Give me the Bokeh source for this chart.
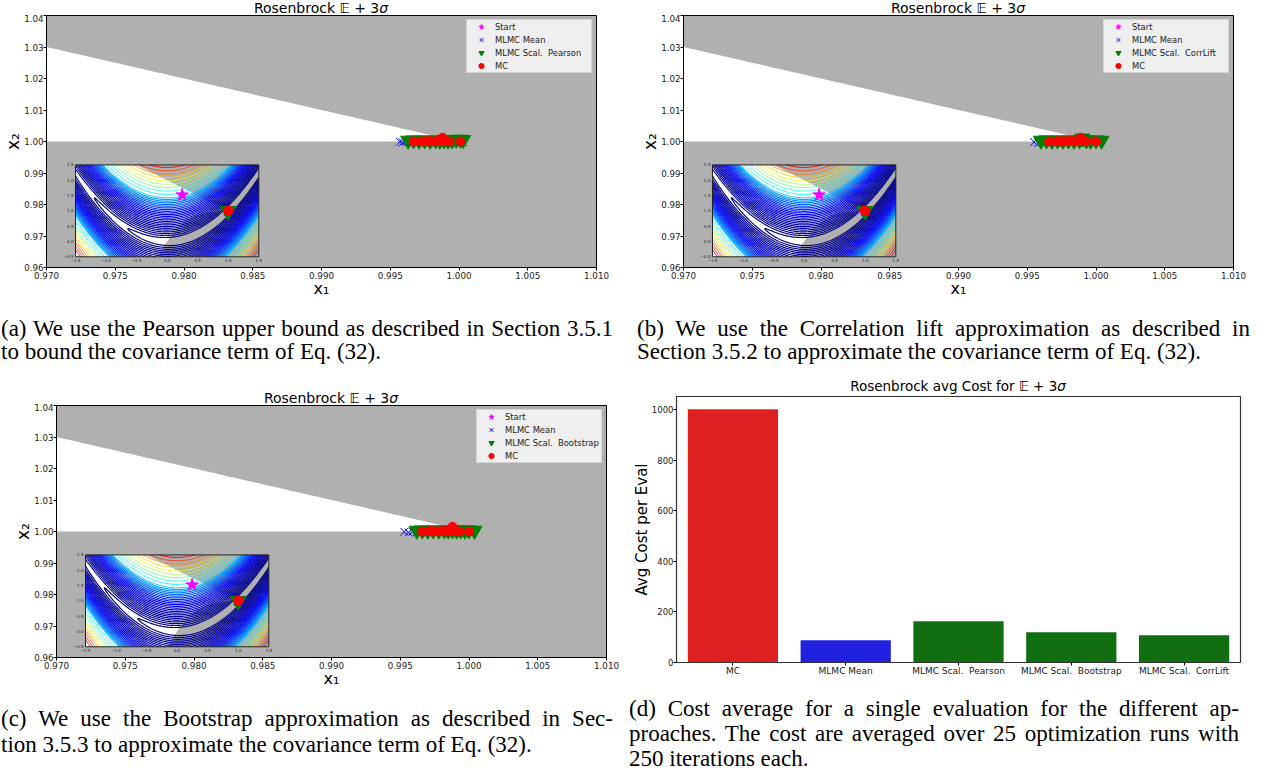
import numpy as np
import contourpy
from bokeh.plotting import figure
from bokeh.models import (Range1d, FactorRange, FixedTicker, NumeralTickFormatter,
                          Legend, LegendItem, Div)
from bokeh.layouts import row, column
from bokeh.core.properties import value
from bokeh.embed import file_html
from bokeh.resources import INLINE

# ---------------------------------------------------------------- data
x_ticks = [0.970, 0.975, 0.980, 0.985, 0.990, 0.995, 1.000, 1.005, 1.010]
y_ticks = [0.96, 0.97, 0.98, 0.99, 1.00, 1.01, 1.02, 1.03, 1.04]
inset_xlim = [-1.5, 1.5]
inset_ylim = [-0.5, 2.5]
inset_xticks = [-1.5, -1.0, -0.5, 0.0, 0.5, 1.0, 1.5]
inset_yticks = [-0.5, 0.0, 0.5, 1.0, 1.5, 2.0, 2.5]

start_x = [0.245]
start_y = [1.52]

# panel (a) - Pearson
a_mean_x = [0.9957, 0.9959, 0.9961, 0.9964, 0.9967, 0.9971, 0.9975, 0.9979, 0.9983, 0.9987, 0.9991, 0.9995, 0.9999, 1.0003]
a_mean_y = [0.9999, 0.9997, 1.0001, 0.9998, 0.9996, 0.9998, 0.9997, 0.9999, 0.9996, 0.9998, 0.9997, 0.9999, 0.9996, 0.9998]
a_scal_x = [0.9963, 0.9967, 0.9971, 0.9975, 0.9979, 0.9983, 0.9986, 0.9989, 0.9992, 0.9995, 0.9998, 1.0001, 1.0003]
a_scal_y = [1.0003, 1.0004, 1.0003, 1.0004, 1.0003, 1.0004, 1.0003, 1.0004, 1.0003, 1.0004, 1.0006, 1.0006, 1.0005]
a_mc_x = [0.9967, 0.9973, 0.9975, 0.9977, 0.9979, 0.9982, 0.9984, 0.9986, 0.9988, 0.9990, 0.9993, 1.0001]
a_mc_y = [1.0000, 1.0000, 1.0001, 1.0000, 1.0001, 1.0000, 1.0002, 1.0001, 1.0012, 1.0001, 1.0000, 1.0000]

# panel (b) - CorrLift
b_mean_x = [0.9955, 0.9958, 0.9961, 0.9964, 0.9968, 0.9972, 0.9976, 0.9980, 0.9984, 0.9988, 0.9992, 0.9996, 1.0000]
b_mean_y = [0.9998, 0.9996, 1.0000, 0.9997, 0.9998, 0.9996, 0.9998, 0.9997, 0.9999, 0.9996, 0.9998, 0.9997, 0.9998]
b_scal_x = [0.9960, 0.9964, 0.9968, 0.9972, 0.9976, 0.9980, 0.9984, 0.9988, 0.9990, 0.9993, 0.9996, 1.0000, 1.0004]
b_scal_y = [1.0003, 1.0004, 1.0003, 1.0004, 1.0003, 1.0004, 1.0003, 1.0004, 1.0010, 1.0004, 1.0003, 1.0004, 1.0003]
b_mc_x = [0.9966, 0.9972, 0.9974, 0.9976, 0.9978, 0.9981, 0.9983, 0.9985, 0.9989, 0.9991, 0.9993, 1.0000]
b_mc_y = [1.0000, 1.0001, 1.0000, 1.0001, 1.0000, 1.0002, 1.0001, 1.0000, 1.0012, 1.0001, 1.0000, 1.0000]

# panel (c) - Bootstrap
c_mean_x = [0.9953, 0.9956, 0.9959, 0.9962, 0.9966, 0.9970, 0.9974, 0.9978, 0.9982, 0.9986, 0.9990, 0.9994, 0.9998, 1.0002]
c_mean_y = [0.9999, 0.9997, 1.0000, 0.9997, 0.9998, 0.9996, 0.9998, 0.9997, 0.9999, 0.9996, 0.9998, 0.9997, 0.9999, 0.9997]
c_scal_x = [0.9962, 0.9966, 0.9970, 0.9974, 0.9978, 0.9982, 0.9985, 0.9988, 0.9991, 0.9994, 0.9997, 1.0000, 1.0004]
c_scal_y = [1.0003, 1.0004, 1.0003, 1.0004, 1.0003, 1.0004, 1.0003, 1.0004, 1.0003, 1.0004, 1.0003, 1.0004, 1.0003]
c_mc_x = [0.9966, 0.9971, 0.9973, 0.9975, 0.9978, 0.9981, 0.9983, 0.9985, 0.9988, 0.9990, 0.9993, 1.0000]
c_mc_y = [1.0000, 1.0001, 1.0000, 1.0001, 1.0000, 1.0002, 1.0001, 1.0000, 1.0015, 1.0001, 1.0000, 1.0000]

# panel (d) - average cost
cost_methods = ["MC", "MLMC Mean", "MLMC Scal.\u00a0 Pearson", "MLMC Scal.\u00a0 Bootstrap", "MLMC Scal.\u00a0 CorrLift"]
cost_values = [1002, 88, 163, 120, 108]
cost_colors = ["#df2020", "#2020df", "#116f11", "#116f11", "#116f11"]
cost_ticks = [0, 200, 400, 600, 800, 1000]

captions = {
    "a": ["(a) We use the Pearson upper bound as described in Section 3.5.1",
          "to bound the covariance term of Eq. (32)."],
    "b": ["(b) We use the Correlation lift approximation as described in",
          "Section 3.5.2 to approximate the covariance term of Eq. (32)."],
    "c": ["(c) We use the Bootstrap approximation as described in Sec-",
          "tion 3.5.3 to approximate the covariance term of Eq. (32)."],
    "d": ["(d) Cost average for a single evaluation for the different ap-",
          "proaches. The cost are averaged over 25 optimization runs with",
          "250 iterations each."],
}

TITLE = "Rosenbrock \U0001D53C + 3<i>\u03c3</i>"
TITLE_D = "Rosenbrock avg Cost for \U0001D53C + 3<i>\u03c3</i>"

# ---------------------------------------------------------------- style
FONT = "DejaVu Sans"
GRAY = "#b0b0b0"
TXT = "#1a1a1a"
FRAME_W, FRAME_H = 550, 252
INSET_FRAC = (0.0527, 0.386, 0.0425, 0.407)   # left, right, bottom, top (frame fractions)

# legend geometry (pixels)
LEG_MARGIN, LEG_GW, LEG_GH, LEG_LW = 4, 28, 13, 96
LEG_KEYS = [("star", 13, "magenta", "magenta", 1.0),
            ("x", 12, None, "blue", 1.0),
            ("inverted_triangle", 14, "green", "green", 1.0),
            ("circle", 7, "red", "red", 1.0)]


def cubic_bound(x):
    return 1.0 + (np.asarray(x) - 1.0) ** 3


def line_bound(x):
    return 2.0 - np.asarray(x)


def rosenbrock(x, y):
    return (1.0 - x) ** 2 + 100.0 * (y - x ** 2) ** 2


def jet(t):
    r = np.clip(1.5 - abs(4 * t - 3), 0, 1)
    g = np.clip(1.5 - abs(4 * t - 2), 0, 1)
    b = np.clip(1.5 - abs(4 * t - 1), 0, 1)
    return "#%02x%02x%02x" % (int(r * 255), int(g * 255), int(b * 255))


# contour lines of the objective for the inset
gx = np.linspace(inset_xlim[0], inset_xlim[1], 181)
gy = np.linspace(inset_ylim[0], inset_ylim[1], 181)
GX, GY = np.meshgrid(gx, gy)
GZ = rosenbrock(GX, GY)
levels = np.concatenate([(0.55 * np.arange(3, 27)) ** 2, (14.3 + 1.1 * np.arange(1, 11)) ** 2])
LEV_MAX = 650.0
gen = contourpy.contour_generator(GX, GY, GZ, line_type="Separate")
cont_xs, cont_ys, cont_cols, cont_w = [], [], [], []
for lev in levels:
    col = jet(min(lev / LEV_MAX, 1.0))
    for seg in gen.lines(lev):
        cont_xs.append(seg[:, 0])
        cont_ys.append(seg[:, 1])
        cont_cols.append(col)
        cont_w.append(1.2 if lev < 200 else 0.9)


def fmt_tick(v):
    return f"{v:.1f}".replace("-", "\u2212")


def style_axes(p, xfs="8.7px", yfs="8.7px"):
    for ax in (p.xaxis[0], p.yaxis[0]):
        ax.major_label_text_font = FONT
        ax.major_label_text_color = TXT
        ax.major_tick_in = 0
        ax.major_tick_out = 3
        ax.minor_tick_line_color = None
        ax.axis_line_color = "black"
        ax.major_tick_line_color = "black"
        ax.axis_label_text_font = FONT
        ax.axis_label_text_font_style = "normal"
        ax.axis_label_text_color = "black"
    p.xaxis.major_label_text_font_size = xfs
    p.yaxis.major_label_text_font_size = yfs


def make_legend(items):
    return Legend(items=items, location="top_right", margin=LEG_MARGIN, padding=0, spacing=0,
                  glyph_width=LEG_GW, glyph_height=LEG_GH, label_height=LEG_GH, label_width=LEG_LW,
                  label_standoff=0, label_text_font=FONT, label_text_font_size="8.4px",
                  label_text_color=TXT, background_fill_color="#efefef", background_fill_alpha=1.0,
                  border_line_color="#bbbbbb", border_line_width=1, level="underlay")


def title_div(html_text, box_w, box_h, frame_left, frame_w, fs, baseline):
    lh = 10
    pad = baseline - ((lh - 1.164 * fs) / 2 + 0.928 * fs)
    html = (f'<div style="margin-left:{frame_left}px;width:{frame_w}px;text-align:center;'
            f'font-family:\'DejaVu Sans\';font-size:{fs}px;line-height:{lh}px;color:#000;'
            f'padding-top:{pad:.1f}px;white-space:nowrap;">{html_text}</div>')
    return Div(text=html, width=box_w, height=box_h, margin=0, styles={"overflow": "visible"})


def main_panel(mean_x, mean_y, scal_x, scal_y, mc_x, mc_y, scal_label, border):
    bl, bt, bb, br = border
    p = figure(frame_width=FRAME_W, frame_height=FRAME_H, title=None,
               x_range=Range1d(x_ticks[0], x_ticks[-1]),
               y_range=Range1d(y_ticks[0], y_ticks[-1]),
               min_border_left=bl, min_border_top=bt, min_border_bottom=bb, min_border_right=br,
               output_backend="svg", toolbar_location=None,
               background_fill_color=GRAY, border_fill_color="white")
    p.grid.visible = False
    p.outline_line_color = "black"

    fl, fr, fb, ft = INSET_FRAC
    sx = (inset_xlim[1] - inset_xlim[0]) / (fr - fl)
    sy = (inset_ylim[1] - inset_ylim[0]) / (ft - fb)
    p.extra_x_ranges = {"ix": Range1d(inset_xlim[0] - fl * sx, inset_xlim[0] + (1 - fl) * sx),
                        "px": Range1d(0, FRAME_W)}
    p.extra_y_ranges = {"iy": Range1d(inset_ylim[0] - fb * sy, inset_ylim[0] + (1 - fb) * sy),
                        "py": Range1d(0, FRAME_H)}
    I = dict(x_range_name="ix", y_range_name="iy")

    # feasible region (white) in the main view
    xw = np.linspace(x_ticks[0], 1.0, 200)
    p.varea(x=xw, y1=cubic_bound(xw), y2=line_bound(xw), fill_color="white")

    # inset: background, infeasible regions, contours
    p.quad(left=[inset_xlim[0]], right=[inset_xlim[1]], bottom=[inset_ylim[0]], top=[inset_ylim[1]],
           fill_color="white", line_color=None, **I)
    xg = np.linspace(inset_xlim[0], inset_xlim[1], 400)
    p.varea(x=xg, y1=np.full_like(xg, inset_ylim[0]), y2=np.clip(cubic_bound(xg), *inset_ylim),
            fill_color=GRAY, **I)
    p.varea(x=xg, y1=np.clip(line_bound(xg), *inset_ylim), y2=np.full_like(xg, inset_ylim[1]),
            fill_color=GRAY, **I)
    p.multi_line(xs=cont_xs, ys=cont_ys, line_color=cont_cols, line_width=cont_w, **I)
    p.quad(left=[inset_xlim[0]], right=[inset_xlim[1]], bottom=[inset_ylim[0]], top=[inset_ylim[1]],
           fill_color=None, line_color="#222222", line_width=1, **I)
    p.text(x=inset_xticks, y=[inset_ylim[0]] * len(inset_xticks), text=[fmt_tick(v) for v in inset_xticks],
           text_font=value(FONT), text_font_size="4px", text_color=TXT, text_align="center",
           text_baseline="top", y_offset=2, **I)
    p.text(x=[inset_xlim[0]] * len(inset_yticks), y=inset_yticks, text=[fmt_tick(v) for v in inset_yticks],
           text_font=value(FONT), text_font_size="4px", text_color=TXT, text_align="right",
           text_baseline="middle", x_offset=-2, **I)

    # markers: inset copies
    p.scatter(start_x, start_y, marker="star", size=13, fill_color="magenta", line_color="magenta", **I)
    p.scatter(mean_x, mean_y, marker="x", size=11, line_color="blue", line_width=1.2, **I)
    p.scatter(scal_x, scal_y, marker="inverted_triangle", size=15, fill_color="green", line_color="green", **I)
    p.scatter(mc_x, mc_y, marker="circle", size=9, fill_color="red", line_color="red", **I)

    # markers: main view
    r_start = p.scatter(start_x, start_y, marker="star", size=13, fill_color="magenta", line_color="magenta")
    r_mean = p.scatter(mean_x, mean_y, marker="x", size=11, line_color="blue", line_width=1.0)
    r_scal = p.scatter(scal_x, scal_y, marker="inverted_triangle", size=15, fill_color="green", line_color="green")
    r_mc = p.scatter(mc_x, mc_y, marker="circle", size=9, fill_color="red", line_color="red")

    p.add_layout(make_legend([LegendItem(label="Start", renderers=[r_start]),
                              LegendItem(label="MLMC Mean", renderers=[r_mean]),
                              LegendItem(label=scal_label, renderers=[r_scal]),
                              LegendItem(label="MC", renderers=[r_mc])]))

    # larger legend keys drawn over the legend's own (small) glyphs, in frame-pixel space
    box_w = LEG_GW + LEG_LW
    key_x = FRAME_W - LEG_MARGIN - box_w + LEG_GW / 2
    for i, (mk, sz, fc, lc, lw) in enumerate(LEG_KEYS):
        key_y = FRAME_H - LEG_MARGIN - LEG_GH / 2 - i * LEG_GH
        p.scatter([key_x], [key_y], marker=mk, size=sz, fill_color=fc, line_color=lc, line_width=lw,
                  x_range_name="px", y_range_name="py")

    p.xaxis.ticker = FixedTicker(ticks=x_ticks, minor_ticks=[])
    p.yaxis.ticker = FixedTicker(ticks=y_ticks, minor_ticks=[])
    p.xaxis.formatter = NumeralTickFormatter(format="0.000")
    p.yaxis.formatter = NumeralTickFormatter(format="0.00")
    style_axes(p)
    p.xaxis.major_label_standoff = 1
    p.yaxis.major_label_standoff = 0
    p.xaxis.axis_label = "x\u2081"
    p.yaxis.axis_label = "x\u2082"
    p.xaxis.axis_label_text_font_size = "16px"
    p.yaxis.axis_label_text_font_size = "17px"
    p.xaxis.axis_label_standoff = -3
    p.yaxis.axis_label_standoff = -2
    return p


def cost_panel(border):
    bl, bt, bb, br = border
    p = figure(frame_width=564, frame_height=266, title=None,
               x_range=FactorRange(factors=cost_methods), y_range=Range1d(0, 1052),
               min_border_left=bl, min_border_top=bt, min_border_bottom=bb, min_border_right=br,
               output_backend="svg", toolbar_location=None, background_fill_color="white")
    p.grid.visible = False
    p.outline_line_color = "#333333"
    p.outline_line_width = 1.2
    p.vbar(x=cost_methods, top=cost_values, width=0.8, fill_color=cost_colors, line_color=None)
    p.yaxis.ticker = FixedTicker(ticks=cost_ticks, minor_ticks=[])
    style_axes(p, xfs="9px", yfs="8.5px")
    p.xaxis.axis_line_color = "#333333"
    p.yaxis.axis_line_color = "#333333"
    p.xaxis.major_label_standoff = 0
    p.yaxis.major_label_standoff = 0
    p.yaxis.axis_label = "Avg Cost per Eval"
    p.yaxis.axis_label_text_font_size = "15px"
    p.yaxis.axis_label_standoff = -2
    return p


def caption(lines, box_w, box_h, text_w, line_h, pad_top, pad_left=0, fs=23):
    rows = []
    for i, ln in enumerate(lines):
        if i < len(lines) - 1:
            st = "text-align:justify;text-align-last:justify;"
        else:
            st = "text-align:left;white-space:nowrap;"
        rows.append(f'<div style="{st}">{ln}</div>')
    html = (f'<div style="font-family:\'Liberation Serif\',serif;font-size:{fs}px;'
            f'line-height:{line_h}px;color:#000;width:{text_w}px;padding-top:{pad_top}px;'
            f'padding-left:{pad_left}px;">' + "".join(rows) + "</div>")
    return Div(text=html, width=box_w, height=box_h, margin=0)


fa = main_panel(a_mean_x, a_mean_y, a_scal_x, a_scal_y, a_mc_x, a_mc_y,
                "MLMC Scal.\u00a0 Pearson", (46, 1, 40, 41))
fb = main_panel(b_mean_x, b_mean_y, b_scal_x, b_scal_y, b_mc_x, b_mc_y,
                "MLMC Scal.\u00a0 CorrLift", (46, 1, 40, 20))
fc = main_panel(c_mean_x, c_mean_y, c_scal_x, c_scal_y, c_mc_x, c_mc_y,
                "MLMC Scal.\u00a0 Bootstrap", (56, 2, 33, 22))
fd = cost_panel((48, 2, 28, 13))

t_a = title_div(TITLE, 637, 14, 46, 550, 14, 12.3)
t_b = title_div(TITLE, 616, 14, 46, 550, 14, 12.3)
t_c = title_div(TITLE, 628, 28, 56, 550, 14, 28.0)
t_d = title_div(TITLE_D, 625, 19, 48, 564, 13.5, 16.0)

cap_a = caption(captions["a"], 637, 68, 613, 22.5, 11, pad_left=1)
cap_b = caption(captions["b"], 616, 68, 613, 22.5, 11)
cap_c = caption(captions["c"], 628, 81, 613, 26, 16, pad_left=1)
cap_d = caption(captions["d"], 625, 81, 611, 25, 6, pad_left=1)

root = column(row(column(t_a, fa), column(t_b, fb)),
              row(cap_a, cap_b),
              row(column(t_c, fc), column(t_d, fd)),
              row(cap_c, cap_d))

open("out.html", "w").write(file_html(root, INLINE, title="Rosenbrock"))
